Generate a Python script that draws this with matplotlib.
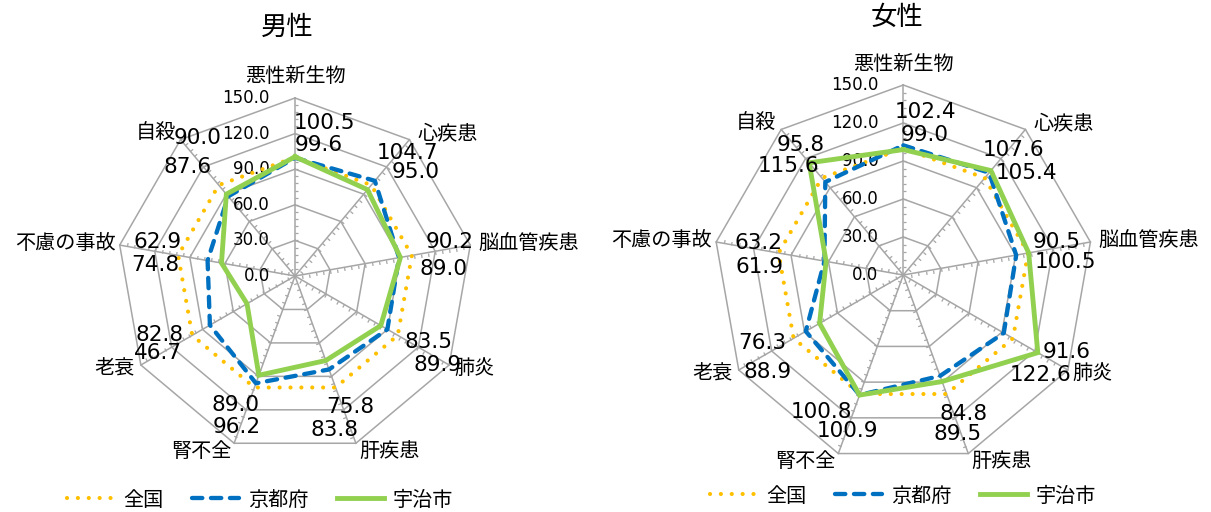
import numpy as np
import matplotlib
matplotlib.use("Agg")
import matplotlib.pyplot as plt
from matplotlib.markers import MarkerStyle
from matplotlib.path import Path
from matplotlib.transforms import Affine2D

plt.rcParams['font.family'] = ['Noto Sans CJK JP', 'DejaVu Sans']

# 標準化死亡比 (全国=100)
categories = ['悪性新生物', '心疾患', '脳血管疾患', '肺炎', '肝疾患',
              '腎不全', '老衰', '不慮の事故', '自殺']
series_names = ['全国', '京都府', '宇治市']

zenkoku = [100.0, 100.0, 100.0, 100.0, 100.0, 100.0, 100.0, 100.0, 100.0]

kyoto_m = [99.6, 104.7, 89.0, 89.9, 83.8, 96.2, 82.8, 74.8, 87.6]
uji_m = [100.5, 95.0, 90.2, 83.5, 75.8, 89.0, 46.7, 62.9, 90.0]

kyoto_f = [102.4, 105.4, 90.5, 91.6, 84.8, 100.8, 88.9, 63.2, 95.8]
uji_f = [99.0, 107.6, 100.5, 122.6, 89.5, 100.9, 76.3, 61.9, 115.6]

# which value sits on the upper line of each data label pair
uji_first_m = [True, False, True, True, True, True, False, True, True]
uji_first_f = [False, True, False, False, False, False, True, False, False]

r_ticks = [0, 30, 60, 90, 120, 150]

# label offsets in pixels from the outer vertex of each spoke (x right, y down)
label_off_m = [[(29, 25), (24, 47)], [(-2, 13), (6, 32)], [(-21, -3), (-27, 24)],
               [(-21, -23), (-12, 0)], [(-6, -36), (-21, -13)], [(1, -38), (3, -16)],
               [(19, -30), (17, -12)], [(38, -3), (36, 20)], [(17, -2), (7, 27)]]
label_off_f = [[(22, 27), (21, 50)], [(-12, 21), (1, 44)], [(-34, 0), (-25, 20)],
               [(-1, -18), (-27, 5)], [(-5, -40), (-11, -20)], [(-17, -42), (9, -23)],
               [(23, -27), (29, 2)], [(42, 1), (43, 25)], [(20, 16), (7, 37)]]
cat_off = [(0, -21, 'center'), (8, -6, 'left'), (8, -2, 'left'), (5, 3, 'left'),
           (3, 8, 'left'), (-3, 8, 'right'), (-6, 4, 'right'), (-4, -2, 'right'),
           (-5, -7, 'right')]

GRID = '#A6A6A6'
COLORS = ['#FFC000', '#0070C0', '#92D050']
W, H = 1211, 512


def radar(fig, rect, kyoto, uji, uji_first, offsets):
    ax = fig.add_axes(rect, projection='polar')
    ax.set_theta_zero_location('N')
    ax.set_theta_direction(-1)
    ax.set_ylim(0, 150)
    ax.grid(False)
    ax.spines['polar'].set_visible(False)
    ax.set_xticks([])
    ax.set_yticks([])
    ax.patch.set_alpha(0)

    n = len(categories)
    theta = np.linspace(0, 2 * np.pi, n, endpoint=False)
    closed = np.append(theta, theta[0])

    # polygon grid
    for r in r_ticks[1:]:
        ax.plot(closed, [r] * (n + 1), color=GRID, lw=1.1, clip_on=False, zorder=1)
    # spokes with minor ticks
    minor = np.arange(6, 150, 6)
    for k, t in enumerate(theta):
        ax.plot([t, t], [0, 150], color=GRID, lw=1.1, clip_on=False, zorder=1)
        ms = MarkerStyle(Path([[0, 0], [1, 0]]),
                         transform=Affine2D().rotate_deg(-40 * k))
        ax.plot([t] * len(minor), minor, ls='none', marker=ms, ms=5,
                mec=GRID, mew=0.9, clip_on=False, zorder=1)

    # radial tick labels
    for v in r_ticks:
        ax.annotate(f'{v:.1f}', xy=(0, v), xytext=(-25, 0), textcoords='offset pixels',
                    ha='right', va='center', fontsize=12, family='DejaVu Sans',
                    annotation_clip=False)

    handles = []
    h, = ax.plot(closed, zenkoku + zenkoku[:1], color=COLORS[0], lw=3.0,
                 ls=(0, (0.01, 2.6)), dash_capstyle='round', clip_on=False, zorder=3)
    handles.append(h)
    h, = ax.plot(closed, kyoto + kyoto[:1], color=COLORS[1], lw=3.1,
                 ls=(0, (2.4, 2.0)), dash_capstyle='round', clip_on=False, zorder=4)
    handles.append(h)
    h, = ax.plot(closed, uji + uji[:1], color=COLORS[2], lw=3.5,
                 solid_joinstyle='miter', clip_on=False, zorder=5)
    handles.append(h)

    for k, t in enumerate(theta):
        dx, dy, ha = cat_off[k]
        ax.annotate(categories[k], xy=(t, 150), xytext=(dx, -dy),
                    textcoords='offset pixels', ha=ha, va='center',
                    fontsize=14.5, annotation_clip=False)
        pair = [uji[k], kyoto[k]] if uji_first[k] else [kyoto[k], uji[k]]
        for val, (ox, oy) in zip(pair, offsets[k]):
            ax.annotate(f'{val:.1f}', xy=(t, 150), xytext=(ox, -oy),
                        textcoords='offset pixels', ha='center', va='center',
                        fontsize=15.5, family='DejaVu Sans', annotation_clip=False,
                        zorder=6)
    return handles


fig = plt.figure(figsize=(W / 100, H / 100), dpi=100)

legend_kw = dict(loc='center', ncol=3, frameon=False, fontsize=14.5,
                 handlelength=2.35, handletextpad=0.45, columnspacing=1.4)

# 男性
cx, cy, R = 295, 276, 178
hm = radar(fig, [(cx - R) / W, (H - cy - R) / H, 2 * R / W, 2 * R / H],
           kyoto_m, uji_m, uji_first_m, label_off_m)
fig.text(287.5 / W, 1 - 27.5 / H, '男性', fontsize=19, ha='center', va='center')
fig.legend(hm, series_names, bbox_to_anchor=(260 / W, 1 - 500 / H), **legend_kw)

# 女性
cx, cy, R = 903.3, 275, 190
hf = radar(fig, [(cx - R) / W, (H - cy - R) / H, 2 * R / W, 2 * R / H],
           kyoto_f, uji_f, uji_first_f, label_off_f)
fig.text(896.7 / W, 1 - 17.5 / H, '女性', fontsize=19, ha='center', va='center')
fig.legend(hf, series_names, bbox_to_anchor=(903 / W, 1 - 496 / H), **legend_kw)

fig.savefig('out.png', dpi=100, facecolor='white')
